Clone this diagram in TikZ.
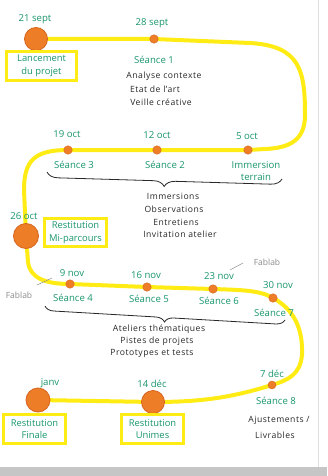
\documentclass[tikz,border=0pt]{standalone}
\usepackage{fontspec}
\setmainfont{Open Sans}
\usetikzlibrary{decorations.pathreplacing}
\definecolor{tgreen}{RGB}{25,150,110}
\definecolor{tblack}{RGB}{40,40,40}
\definecolor{tgray}{RGB}{140,140,140}
\definecolor{tyellow}{RGB}{255,236,20}
\definecolor{torange}{RGB}{238,125,40}
\definecolor{tdark}{RGB}{215,100,30}
\begin{document}
\begin{tikzpicture}[x=1pt,y=-1pt,
  glabel/.style={text=tgreen,font=\fontsize{9.6}{10}\selectfont,inner sep=0pt},
  blabel/.style={text=tblack,font=\fontsize{8.6}{10}\selectfont\addfontfeature{LetterSpace=6},inner sep=0pt},
  graylabel/.style={text=tgray,font=\fontsize{8.5}{10}\selectfont,inner sep=0pt},
  bigdot/.style={circle,fill=torange,draw=tdark,line width=0.8pt,minimum size=23pt,inner sep=0pt},
  smalldot/.style={circle,fill=torange,draw=tdark,line width=0.4pt,minimum size=8.5pt,inner sep=0pt},
  rbox/.style={draw=tyellow,line width=3pt,text=tgreen,font=\fontsize{9.4}{12.5}\selectfont,align=center,inner sep=0pt},
  track/.style={draw=tyellow,line width=4pt,line cap=round,line join=round},
  bracestyle/.style={draw=tblack,line width=0.8pt,decorate,decoration={brace,mirror,amplitude=#1}},
  pointer/.style={draw=tgray,line width=0.5pt}
]
\useasboundingbox (0,0) rectangle (327,476);
\fill[white] (0,0) rectangle (327,476);
% scan edges
\fill[gray!45] (0,467) rectangle (327,476);
\draw[gray!25,line width=0.8pt] (318,0) -- (318,467);

% positions of the stages
\coordinate (p21) at (36,39);
\coordinate (p28) at (154,39);
\coordinate (p5o) at (248,150);
\coordinate (p12o) at (157,150);
\coordinate (p19o) at (68,150);
\coordinate (p26o) at (26,236);
\coordinate (p9n) at (70,284);
\coordinate (p16n) at (147,287);
\coordinate (p23n) at (213,289);
\coordinate (p30n) at (273,298);
\coordinate (p7d) at (272,385);
\coordinate (p14d) at (153,402);
\coordinate (pjan) at (38,400);

% the yellow track
\draw[track] (p21) -- (p28) -- (250,43) .. controls (300,46) and (305,70) .. (305,115)
  .. controls (305,140) and (290,148) .. (265,149) -- (p5o) -- (p12o) -- (p19o)
  .. controls (35,150) and (24,160) .. (24,190) -- (p26o)
  -- (28,262) .. controls (30,278) and (45,284) .. (p9n) -- (p16n) -- (p23n)
  .. controls (240,290) and (260,290) .. (p30n)
  .. controls (295,310) and (303,330) .. (302,355)
  .. controls (300,375) and (288,380) .. (p7d)
  .. controls (230,398) and (200,402) .. (p14d) -- (pjan);

% dots
\node[bigdot] (d21) at (p21) {};
\node[smalldot] (d28) at (p28) {};
\node[smalldot] (d5o) at (p5o) {};
\node[smalldot] (d12o) at (p12o) {};
\node[smalldot] (d19o) at (p19o) {};
\node[bigdot,minimum size=25pt] (d26o) at (p26o) {};
\node[smalldot] (d9n) at (p9n) {};
\node[smalldot] (d16n) at (p16n) {};
\node[smalldot] (d23n) at (p23n) {};
\node[smalldot] (d30n) at (p30n) {};
\node[smalldot,minimum size=8pt] (d7d) at (p7d) {};
\node[bigdot] (d14d) at (p14d) {};
\node[bigdot,minimum size=24pt] (djan) at (pjan) {};

% dates
\node[glabel] (t21) at (35,19) {21 sept};
\node[glabel] (t28) at (152,23) {28 sept};
\node[glabel] (t19o) at (67,134) {19 oct};
\node[glabel] (t12o) at (157,135) {12 oct};
\node[glabel] (t5o) at (247,136) {5 oct};
\node[glabel] (t26o) at (24,216) {26 oct};
\node[glabel] (t9n) at (72,273) {9 nov};
\node[glabel] (t16n) at (146,275) {16 nov};
\node[glabel] (t23n) at (219,276) {23 nov};
\node[glabel] (t30n) at (278,285) {30 nov};
\node[glabel] (t7d) at (272,374) {7 déc};
\node[glabel] (t14d) at (152,384) {14 déc};
\node[glabel] (tjan) at (50,383) {janv};

% session names
\node[glabel] (s1) at (154,60) {Séance 1};
\node[glabel] (s3) at (74,165) {Séance 3};
\node[glabel] (s2) at (165,165) {Séance 2};
\node[glabel,align=center,font=\fontsize{9.6}{12}\selectfont] (imm) at (256,171) {Immersion\\terrain};
\node[glabel] (s4) at (73,298) {Séance 4};
\node[glabel] (s5) at (149,299) {Séance 5};
\node[glabel] (s6) at (219,301) {Séance 6};
\node[glabel] (s7) at (274,313) {Séance 7};
\node[glabel] (s8) at (276,401) {Séance 8};

% boxed milestones
\node[rbox,minimum width=70pt,minimum height=29pt] (lanc) at (41.5,66) {Lancement\\du projet};
\node[rbox,minimum width=62pt,minimum height=28pt] (mip) at (75.5,232.5) {Restitution\\Mi-parcours};
\node[rbox,minimum width=62pt,minimum height=29pt] (fin) at (34.5,429) {Restitution\\Finale};
\node[rbox,minimum width=62pt,minimum height=29pt] (uni) at (152.5,429) {Restitution\\Unimes};

% session contents
\node[blabel] (a1) at (164,76) {Analyse contexte};
\node[blabel] (a2) at (155,89) {Etat de l'art};
\node[blabel] (a3) at (161,102) {Veille créative};

\draw[bracestyle=11pt] (47,172) -- (282,179);
\node[blabel] (b1) at (173,196) {Immersions};
\node[blabel] (b2) at (174,209) {Observations};
\node[blabel] (b3) at (176,222) {Entretiens};
\node[blabel] (b4) at (180,234) {Invitation atelier};

\draw[bracestyle=9pt] (45,306) -- (285,320);
\node[blabel] (c1) at (159,329) {Ateliers thématiques};
\node[blabel] (c2) at (157,341) {Pistes de projets};
\node[blabel] (c3) at (152,353) {Prototypes et tests};

\node[blabel] (e1) at (279,420) {Ajustements /};
\node[blabel] (e2) at (275,435) {Livrables};

% Fablab notes
\node[graylabel] (fab1) at (19,295) {Fablab};
\draw[pointer] (37,285) -- (52,278);
\node[graylabel] (fab2) at (267,262) {Fablab};
\draw[pointer] (230,270) -- (243,263);
\end{tikzpicture}
\end{document}
